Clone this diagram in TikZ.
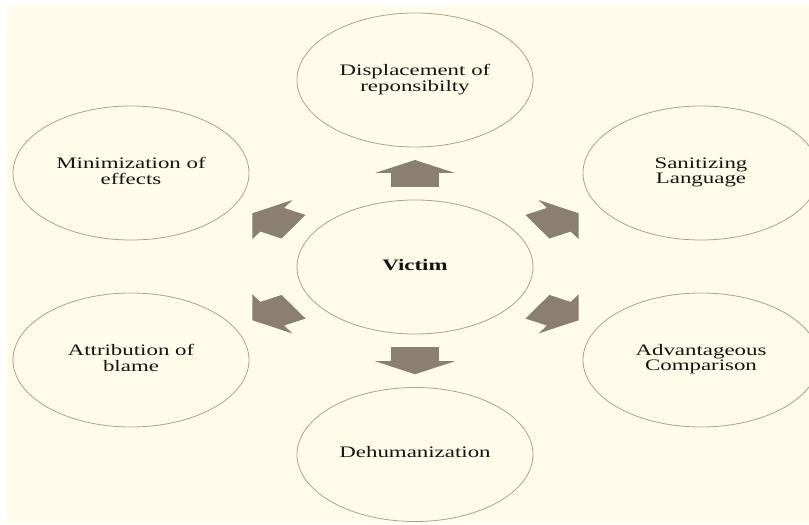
\documentclass[tikz,border=0pt]{standalone}
\usepackage{fontspec}
\setmainfont{Liberation Serif}
\usepackage{graphicx}
\usetikzlibrary{shapes.geometric,calc}
\definecolor{bgcream}{RGB}{255,253,234}
\definecolor{ringline}{RGB}{176,158,148}
\definecolor{arrowfill}{RGB}{139,127,113}
\definecolor{txt}{RGB}{20,20,20}
\newcommand\wtext[1]{\scalebox{1.43}[1]{\begin{tabular}{@{}c@{}}#1\end{tabular}}}
\newcommand\blockarrow[2]{\fill[blockarr, shift={(#1)}, xscale=1.76, rotate=#2]
  (13.5,0) -- (0.5,22.7) -- (0.5,13.6) -- (-13.5,13.6) -- (-13.5,-13.6) -- (0.5,-13.6) -- (0.5,-22.7) -- cycle;}
\begin{document}
\begin{tikzpicture}[x=1pt,y=1pt,
  bubble/.style={ellipse, draw=ringline, line width=0.8pt, fill=bgcream,
    minimum width=236pt, minimum height=134pt, inner sep=0pt, text=txt,
    font=\fontsize{16}{15}\selectfont},
  blockarr/.style={fill=arrowfill}]
\useasboundingbox (0,0) rectangle (809,525);
\clip (0,0) rectangle (809,525);
\fill[white] (0,0) rectangle (809,525);
\fill[bgcream] (7,2) rectangle (809,519);
\node[bubble] (victim) at (415,258) {\wtext{\textbf{Victim}}};
\node[bubble] (disp) at (415,445) {\wtext{Displacement of\\reponsibilty}};
\node[bubble] (mini) at (131,352) {\wtext{Minimization of\\effects}};
\node[bubble] (sani) at (701,352) {\wtext{Sanitizing\\Language}};
\node[bubble] (attr) at (131,165) {\wtext{Attribution of\\blame}};
\node[bubble] (adva) at (701,165) {\wtext{Advantageous\\Comparison}};
\node[bubble] (dehu) at (415,70.5) {\wtext{Dehumanization}};
\coordinate (m1) at ($(victim)!0.5!(disp)$);
\coordinate (m2) at ($(victim)!0.5!(sani)$);
\coordinate (m3) at ($(victim)!0.5!(adva)$);
\coordinate (m4) at ($(victim)!0.5!(dehu)$);
\coordinate (m5) at ($(victim)!0.5!(attr)$);
\coordinate (m6) at ($(victim)!0.5!(mini)$);
\blockarrow{m1}{90}
\blockarrow{m2}{30}
\blockarrow{m3}{-30}
\blockarrow{m4}{-90}
\blockarrow{m5}{210}
\blockarrow{m6}{150}
\end{tikzpicture}
\end{document}
